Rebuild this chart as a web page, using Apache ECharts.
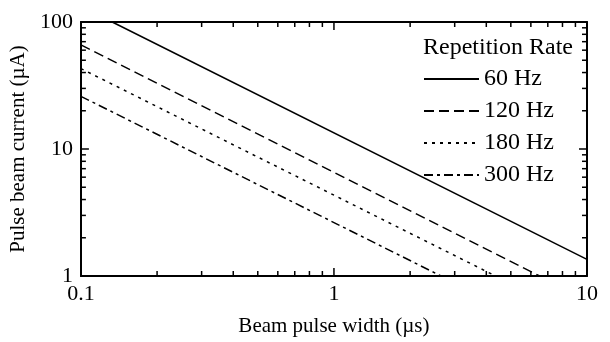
<!DOCTYPE html>
<html>
<head>
<meta charset="utf-8">
<script src="https://cdn.jsdelivr.net/npm/echarts@6/dist/echarts.min.js"></script>
<style>
  html, body { margin: 0; padding: 0; background: #fff; }
  #chart { width: 610px; height: 342px; }
</style>
</head>
<body>
<div id="chart"></div>
<script>
// beam pulse width (µs) vs pulse beam current (µA)
const width60 = [0.133, 10];
const current60 = [100, 1.35];
const width120 = [0.1, 6.5];
const current120 = [66, 1];
const width180 = [0.1, 4.35];
const current180 = [43, 1];
const width300 = [0.1, 2.65];
const current300 = [26, 1];

const seriesNames = ["60 Hz", "120 Hz", "180 Hz", "300 Hz"];
const majorTicksX = [1];
const minorTicksX = [0.2, 0.3, 0.4, 0.5, 0.6, 0.7, 0.8, 0.9, 2, 3, 4, 5, 6, 7, 8, 9];
const majorTicksY = [10];
const minorTicksY = [2, 3, 4, 5, 6, 7, 8, 9, 20, 30, 40, 50, 60, 70, 80, 90];

const xRange = [0.1, 10];
const yRange = [1, 100];

const font = "Liberation Serif";
const ink = "#000";

function pairs(xs, ys) {
  return xs.map((x, i) => [x, ys[i]]);
}

// frame axis on one side of the plot
function logAxis(range, position, opts) {
  return Object.assign({
    type: "log",
    logBase: 10,
    min: range[0],
    max: range[1],
    position,
    axisLine: { show: true, onZero: false, lineStyle: { color: ink, width: 2 } },
    axisTick: { show: false },
    minorTick: { show: false },
    axisLabel: { show: false },
    splitLine: { show: false },
    minorSplitLine: { show: false },
  }, opts);
}

// inward ticks on all four sides, placed through the axes' own scales
const tickRows = [
  ...majorTicksX.map((v) => ["x", v, 8]),
  ...minorTicksX.map((v) => ["x", v, 5]),
  ...majorTicksY.map((v) => ["y", v, 8]),
  ...minorTicksY.map((v) => ["y", v, 5]),
];

function renderTick(params, api) {
  const row = tickRows[params.dataIndex];
  const len = row[2];
  const style = { stroke: ink, lineWidth: 1.5 };
  if (row[0] === "x") {
    const b = api.coord([row[1], yRange[0]]);
    const t = api.coord([row[1], yRange[1]]);
    return { type: "group", children: [
      { type: "line", shape: { x1: b[0], y1: b[1], x2: b[0], y2: b[1] - len }, style },
      { type: "line", shape: { x1: t[0], y1: t[1], x2: t[0], y2: t[1] + len }, style },
    ] };
  }
  const l = api.coord([xRange[0], row[1]]);
  const r = api.coord([xRange[1], row[1]]);
  return { type: "group", children: [
    { type: "line", shape: { x1: l[0], y1: l[1], x2: l[0] + len, y2: l[1] }, style },
    { type: "line", shape: { x1: r[0], y1: r[1], x2: r[0] - len, y2: r[1] }, style },
  ] };
}

const labelStyle = { show: true, color: ink, fontFamily: font, fontSize: 22, formatter: (v) => String(v) };
const nameStyle = { color: ink, fontFamily: font, fontSize: 21 };

const chart = echarts.init(document.getElementById("chart"), null, { renderer: "canvas" });
chart.setOption({
  animation: false,
  backgroundColor: "#fff",
  grid: { left: 80, right: 23, top: 22, bottom: 65 },
  title: {
    text: "Repetition Rate",
    left: 423,
    top: 36,
    padding: 0,
    textStyle: { color: ink, fontFamily: font, fontSize: 24, fontWeight: "normal" },
  },
  legend: {
    data: seriesNames,
    orient: "vertical",
    left: 423,
    top: 67,
    padding: 0,
    itemWidth: 55,
    itemHeight: 14,
    itemGap: 8,
    itemStyle: { opacity: 0 },
    textStyle: { color: ink, fontFamily: font, fontSize: 24 },
    selectedMode: false,
  },
  xAxis: [
    logAxis(xRange, "bottom", {
      axisLabel: Object.assign({ margin: 7 }, labelStyle),
      name: "Beam pulse width (\u00b5s)",
      nameLocation: "middle",
      nameGap: 40,
      nameTextStyle: nameStyle,
    }),
    logAxis(xRange, "top"),
  ],
  yAxis: [
    logAxis(yRange, "left", {
      axisLabel: Object.assign({ margin: 8 }, labelStyle),
      name: "Pulse beam current (\u00b5A)",
      nameLocation: "middle",
      nameGap: 36,
      nameTextStyle: nameStyle,
    }),
    logAxis(yRange, "right"),
  ],
  series: [
    ...[
      { data: pairs(width60, current60), dash: "solid" },
      { data: pairs(width120, current120), dash: [10, 5] },
      { data: pairs(width180, current180), dash: [3, 5] },
      { data: pairs(width300, current300), dash: [9, 4, 3, 4] },
    ].map((s, i) => ({
      name: seriesNames[i],
      type: "line",
      data: s.data,
      symbol: "none",
      silent: true,
      itemStyle: { color: ink },
      lineStyle: { color: ink, width: 1.5, type: s.dash },
    })),
    {
      name: "ticks",
      type: "custom",
      silent: true,
      clip: false,
      data: tickRows.map((r, i) => [i]),
      encode: { x: -1, y: -1 },
      renderItem: renderTick,
    },
  ],
});
</script>
</body>
</html>
